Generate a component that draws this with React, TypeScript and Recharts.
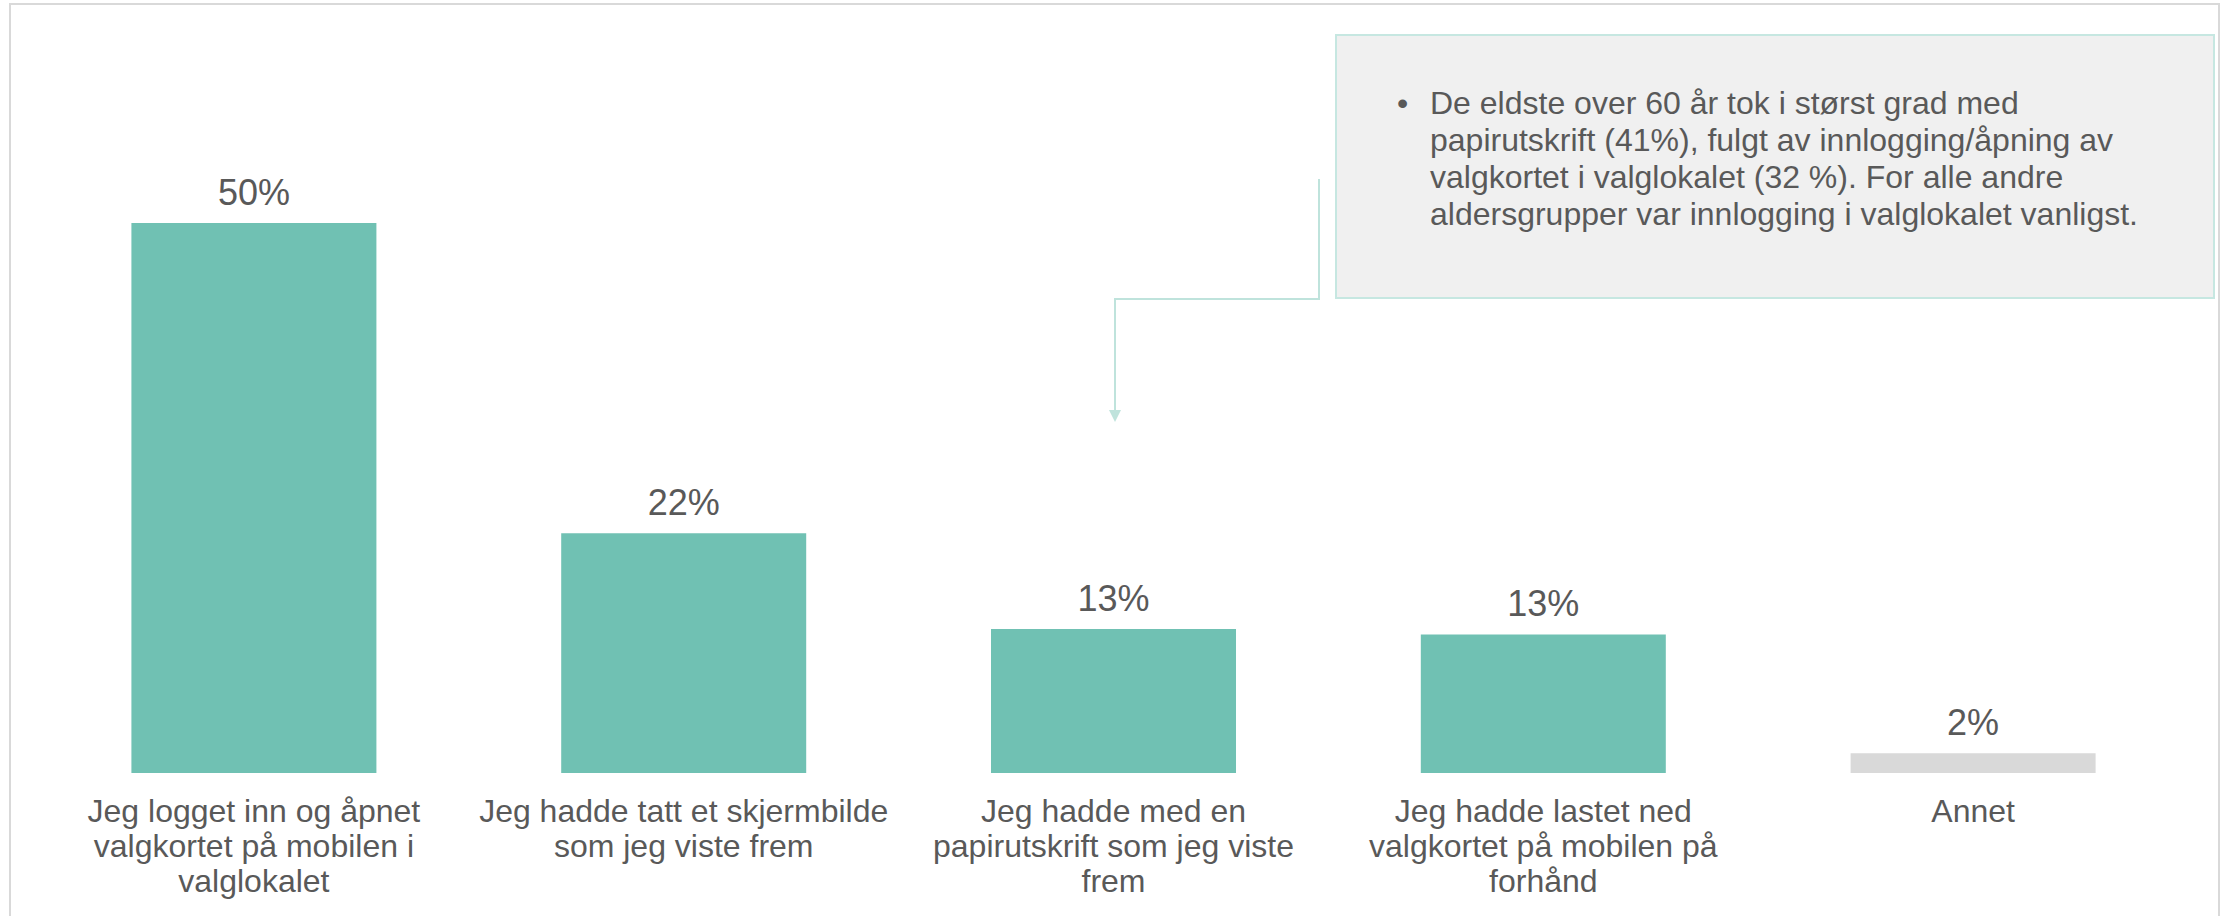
import { BarChart, Bar, XAxis, YAxis, Cell, LabelList } from "recharts";

const categories = [
  "Jeg logget inn og åpnet valgkortet på mobilen i valglokalet",
  "Jeg hadde tatt et skjermbilde som jeg viste frem",
  "Jeg hadde med en papirutskrift som jeg viste frem",
  "Jeg hadde lastet ned valgkortet på mobilen på forhånd",
  "Annet",
];
const shares = [50, 21.8, 13.1, 12.6, 1.8];
const noteText =
  "De eldste over 60 år tok i størst grad med papirutskrift (41%), fulgt av innlogging/åpning av valgkortet i valglokalet (32 %). For alle andre aldersgrupper var innlogging i valglokalet vanligst.";

const data = categories.map((name, i) => ({ name, value: shares[i] }));

const FONT = "'Liberation Sans', Arial, sans-serif";
const TEXT = "#595959";
const TEAL = "#70c1b3";
const GREY = "#d9d9d9";

let ctx: CanvasRenderingContext2D | null = null;
function wrap(text: string, maxWidth: number, font: string) {
  if (!ctx) ctx = document.createElement("canvas").getContext("2d");
  if (ctx) ctx.font = font;
  const words = text.split(" ");
  const lines: string[] = [];
  let cur = "";
  for (const w of words) {
    const test = cur ? cur + " " + w : w;
    const width = ctx ? ctx.measureText(test).width : test.length * 16;
    if (width > maxWidth && cur) {
      lines.push(cur);
      cur = w;
    } else {
      cur = test;
    }
  }
  if (cur) lines.push(cur);
  return lines;
}

const CategoryTick = (props: any) => {
  const { x, y, payload } = props;
  const lines = wrap(String(payload.value), 415, `32px ${FONT}`);
  return (
    <text x={x} y={y + 49} textAnchor="middle" fill={TEXT} fontSize={32} fontFamily={FONT}>
      {lines.map((l, i) => (
        <tspan key={i} x={x} dy={i === 0 ? 0 : 35}>
          {l}
        </tspan>
      ))}
    </text>
  );
};

export default function App() {
  return (
    <div style={{ position: "absolute", left: 0, top: 0, width: 2224, height: 916, background: "#fff", overflow: "hidden" }}>
      {/* outer frame */}
      <div style={{ position: "absolute", left: 9, top: 3, width: 2207, height: 940, border: "2px solid #d9d9d9" }} />

      <BarChart
        width={2224}
        height={916}
        data={data}
        margin={{ top: 113, right: 36, bottom: 13, left: 39 }}
        barCategoryGap="21.5%"
      >
        <XAxis
          dataKey="name"
          axisLine={false}
          tickLine={false}
          tickSize={0}
          tickMargin={0}
          height={130}
          interval={0}
          tick={<CategoryTick />}
        />
        <YAxis hide domain={[0, 60]} />
        <Bar dataKey="value" isAnimationActive={false}>
          {data.map((d, i) => (
            <Cell key={d.name} fill={i === data.length - 1 ? GREY : TEAL} />
          ))}
          <LabelList
            dataKey="value"
            position="top"
            offset={18}
            formatter={(v: any) => `${Math.round(Number(v))}%`}
            fill={TEXT}
            fontSize={36}
            fontFamily={FONT}
          />
        </Bar>
      </BarChart>

      {/* connector arrow from note */}
      <svg width={2224} height={916} style={{ position: "absolute", left: 0, top: 0, pointerEvents: "none" }}>
        <path d="M1319,179 V299 H1115 V414" fill="none" stroke="#bfe3dc" strokeWidth={2} />
        <path d="M1109,410 L1115,422 L1121,410 Z" fill="#bfe3dc" />
      </svg>

      {/* note box */}
      <div
        style={{
          position: "absolute",
          left: 1335,
          top: 34,
          width: 876,
          height: 261,
          background: "#f0f0f0",
          border: "2px solid #c6e7e1",
          fontFamily: FONT,
          fontSize: 32,
          lineHeight: "37px",
          color: TEXT,
        }}
      >
        <span style={{ position: "absolute", left: 60, top: 49 }}>•</span>
        <div style={{ position: "absolute", left: 93, top: 49, width: 740 }}>{noteText}</div>
      </div>
    </div>
  );
}
